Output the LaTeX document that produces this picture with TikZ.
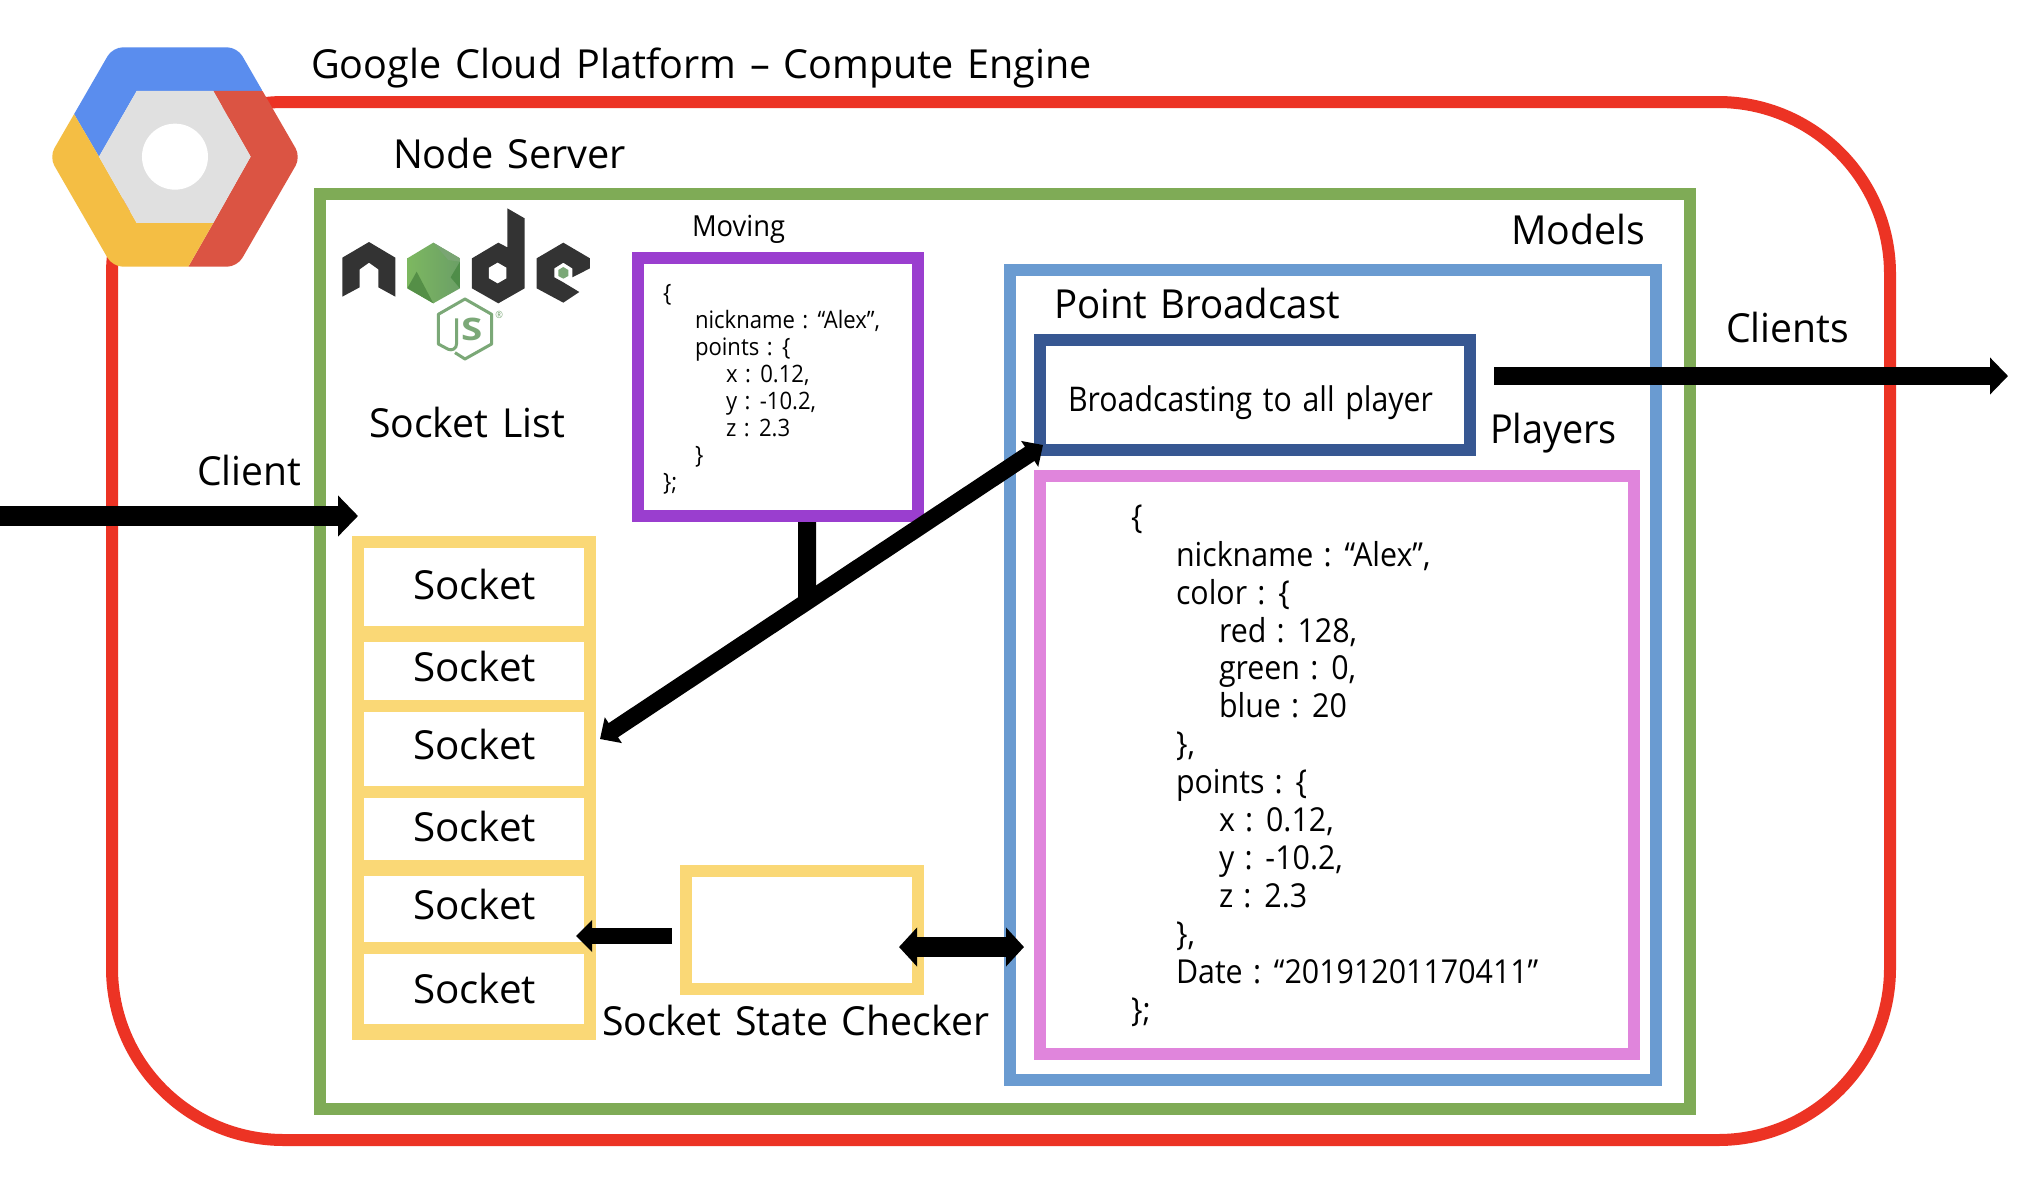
\documentclass[tikz,border=0pt]{standalone}
\usepackage{fontspec}
\usepackage{graphicx}
\setmainfont[WordSpace=1.35,FakeStretch=0.92]{Open Sans}
\newfontfamily\codefont[WordSpace=1.3,FakeStretch=0.92]{Open Sans}
\usetikzlibrary{arrows.meta}
\definecolor{cred}{HTML}{EC3324}
\definecolor{cgreen}{HTML}{7FAB56}
\definecolor{cblue}{HTML}{6A9BD1}
\definecolor{cnavy}{HTML}{375792}
\definecolor{cpink}{HTML}{E085DC}
\definecolor{cpurple}{HTML}{9A3ECF}
\definecolor{cyell}{HTML}{FAD876}
\definecolor{gblue}{HTML}{5A8DEE}
\definecolor{gred}{HTML}{DB5443}
\definecolor{gyell}{HTML}{F4BE44}
\definecolor{ggrey}{HTML}{E0E0E0}
\definecolor{ndark}{HTML}{333333}
\definecolor{ngreen}{HTML}{7BA877}
\definecolor{hexA}{HTML}{7DB860}
\definecolor{hexB}{HTML}{6B9F66}
\definecolor{hexC}{HTML}{558F47}
\definecolor{hexD}{HTML}{4F8D49}
\definecolor{hexE}{HTML}{7AA573}
\tikzset{
  framebox/.style={rectangle,draw=#1,fill=white,line width=12pt,inner sep=0pt,outer sep=0pt,line join=miter},
  txt/.style={anchor=base west,inner sep=0pt,outer sep=0pt,text=black},
  conn/.style={draw=black,line cap=butt},
}
\newcommand{\bxn}[7][]{%
  \pgfmathsetmacro\bxw{#5-#3}\pgfmathsetmacro\bxh{#6-#4}%
  \node[framebox=#7,minimum width=\bxw pt,minimum height=\bxh pt,#1] (#2) at ({(#3+#5)/2},{(#4+#6)/2}) {};}
\newcommand{\lab}[6]{%
  \node[txt] (#1) at ({#2-2},{#3+1}) {\resizebox{\dimexpr #5pt+3pt\relax}{\height}{\fontsize{#4}{#4}\selectfont #6}};}
\begin{document}
\begin{tikzpicture}[x=1pt,y=-1pt]
\useasboundingbox (0,0) rectangle (2020,1176);
\fill[white] (0,0) rectangle (2020,1176);
% outer
\bxn[rounded corners=172pt]{gcp}{112}{102}{1890}{1140}{cred}
% GCP logo
\begin{scope}[shift={(40,40)},x=0.3333pt,y=-0.3333pt]
\begin{scope}
\clip[rounded corners=10pt] (218,22) -- (592,22) -- (782,351) -- (592,680) -- (218,680) -- (28,351) -- cycle;
\fill[gblue] (102,222) -- (200,0) -- (640,0) -- (668,153) -- (290,153) -- (177,350) -- cycle;
\fill[gred] (668,153) -- (900,153) -- (900,800) -- (445,800) -- (445,680) -- (520,549) -- (632,350) -- (520,153) -- cycle;
\fill[gyell] (102,222) -- (0,222) -- (0,800) -- (445,800) -- (445,680) -- (520,549) -- (290,549) -- (177,350) -- cycle;
\end{scope}
\fill[ggrey] (290,153) -- (520,153) -- (632,350) -- (520,549) -- (290,549) -- (177,350) -- cycle;
\fill[white] (405,350) circle[radius=33pt];
\end{scope}
% node server
\bxn{nodeserver}{320}{194}{1690}{1109}{cgreen}
% Node.js logo
\begin{scope}[shift={(320,190)},x=0.3333pt,y=-0.3333pt]
\fill[ndark] (67,203) -- (147,156) -- (226,203) -- (226,320) -- (175,292) -- (175,238) -- (147,218) -- (119,238) -- (119,292) -- (67,320) -- cycle;
\shade[left color=hexA,right color=hexB] (340,158) -- (420,205) -- (420,295) -- (340,340) -- (262,295) -- (262,205) -- cycle;
\fill[hexC] (262,295) -- (290,245) -- (340,340) -- cycle;
\fill[hexD] (420,215) -- (420,295) -- (392,262) -- cycle;
\fill[hexE] (340,158) -- (420,205) -- (420,215) -- (385,210) -- cycle;
\fill[ndark] (562,55) -- (614,85) -- (614,295) -- (535,340) -- (456,295) -- (456,205) -- (535,158) -- (562,172) -- cycle;
\fill[white] (533,218) -- (559,233) -- (559,265) -- (533,280) -- (507,265) -- (507,233) -- cycle;
\fill[ndark] (730,158) -- (810,205) -- (810,235) -- (757,262) -- (757,235) -- (730,218) -- (703,235) -- (703,262) -- (730,277) -- (778,306) -- (730,338) -- (650,295) -- (650,205) -- cycle;
\fill[ngreen] (730,231) -- (745,240) -- (745,258) -- (730,266) -- (715,258) -- (715,240) -- cycle;
\draw[ngreen,line width=3pt,line join=round] (410,385) -- (410,460) .. controls (410,478) and (395,482) .. (385,478) -- (355,462) -- (355,373) -- (435,327) -- (515,373) -- (515,462) -- (435,507) -- (405,488);
\node[inner sep=0pt,text=ngreen] (jsS) at (455,418) {\scalebox{1.35}[1]{\fontsize{31}{31}\selectfont\bfseries S}};
\node[inner sep=0pt,text=ngreen] (jsR) at (538,375) {\fontsize{10}{10}\selectfont ®};
\end{scope}
% moving
\bxn{moving}{638}{258}{918}{516}{cpurple}
% models
\bxn{models}{1010}{270}{1656}{1080}{cblue}
\bxn{broadcast}{1040}{340}{1470}{450}{cnavy}
\bxn{players}{1040}{476}{1634}{1054}{cpink}
% socket list
\bxn{socketlist}{358}{542}{590}{1034}{cyell}
\bxn{sockA}{358}{542}{590}{632}{cyell}
\bxn{sockB}{358}{636}{590}{706}{cyell}
\bxn{sockC}{358}{706}{590}{792}{cyell}
\bxn{sockD}{358}{792}{590}{866}{cyell}
\bxn{sockE}{358}{870}{590}{948}{cyell}
\bxn{sockF}{358}{948}{590}{1030}{cyell}
\bxn{checker}{686}{871}{918}{989}{cyell}
% labels
\lab{tGcp}{313}{77}{40}{778}{Google Cloud Platform – Compute Engine}
\lab{tNode}{395}{167}{40}{230}{Node Server}
\lab{tClient}{199}{484}{40}{101}{Client}
\lab{tList}{371}{436}{40}{193}{Socket List}
\lab{tMoving}{694}{235}{29}{90}{Moving}
\lab{tPoint}{1056}{317}{40}{283}{Point Broadcast}
\lab{tAll}{1070}{410}{34}{362}{Broadcasting to all player}
\lab{tModels}{1513}{243}{40}{131}{Models}
\lab{tClients}{1728}{341}{40}{120}{Clients}
\lab{tPlayers}{1492}{442}{40}{124}{Players}
\lab{tS1}{415}{598}{40}{120}{Socket}
\lab{tS2}{415}{680}{40}{120}{Socket}
\lab{tS3}{415}{758}{40}{120}{Socket}
\lab{tS4}{415}{840}{40}{120}{Socket}
\lab{tS5}{415}{918}{40}{120}{Socket}
\lab{tS6}{415}{1002}{40}{120}{Socket}
\lab{tChecker}{604}{1034}{40}{384}{Socket State Checker}
\node[txt,align=left,font=\codefont\fontsize{24}{27}\selectfont] (movingdata) at (663,490) {\{\\
\hspace*{32pt}nickname : “Alex”,\\
\hspace*{32pt}points : \{\\
\hspace*{63pt}x : 0.12,\\
\hspace*{63pt}y : -10.2,\\
\hspace*{63pt}z : 2.3\\
\hspace*{32pt}\}\\
\};};
\node[txt,align=left,font=\codefont\fontsize{33}{37.9}\selectfont] (playerdata) at (1131,1021) {\{\\
\hspace*{45pt}nickname : “Alex”,\\
\hspace*{45pt}color : \{\\
\hspace*{88pt}red : 128,\\
\hspace*{88pt}green : 0,\\
\hspace*{88pt}blue : 20\\
\hspace*{45pt}\},\\
\hspace*{45pt}points : \{\\
\hspace*{88pt}x : 0.12,\\
\hspace*{88pt}y : -10.2,\\
\hspace*{88pt}z : 2.3\\
\hspace*{45pt}\},\\
\hspace*{45pt}Date : “20191201170411”\\
\};};
% connectors
\coordinate (clientIn) at (0,516);
\draw[conn,line width=20pt,-{Triangle[length=20pt,width=40pt]}] (clientIn) -- ([shift={(0,-26)}]socketlist.north west);
\coordinate (clientsOut) at (2008,376);
\draw[conn,line width=18pt,-{Triangle[length=18pt,width=36pt]}] ([shift={(24,36)}]broadcast.north east) -- (clientsOut);
\path ([shift={(10,-10)}]sockC.east) -- ([shift={(3,-5)}]broadcast.south west) coordinate[pos=0.4673] (junction);
\draw[conn,line width=18pt] ([shift={(29,6)}]moving.south) -- ([shift={(0,2)}]junction);
\draw[conn,line width=17pt,{Triangle[length=16pt,width=30pt]}-{Triangle[length=16pt,width=30pt]}] ([shift={(10,-10)}]sockC.east) -- ([shift={(3,-5)}]broadcast.south west);
\draw[conn,line width=16pt,-{Triangle[length=16pt,width=31pt]}] ([shift={(-14,6)}]checker.west) -- ([shift={(-14,27)}]sockE.east);
\draw[conn,line width=20pt,{Triangle[length=18pt,width=38pt]}-{Triangle[length=18pt,width=38pt]}] ([shift={(-19,17)}]checker.east) -- ([shift={(14,272)}]models.west);
\end{tikzpicture}
\end{document}
